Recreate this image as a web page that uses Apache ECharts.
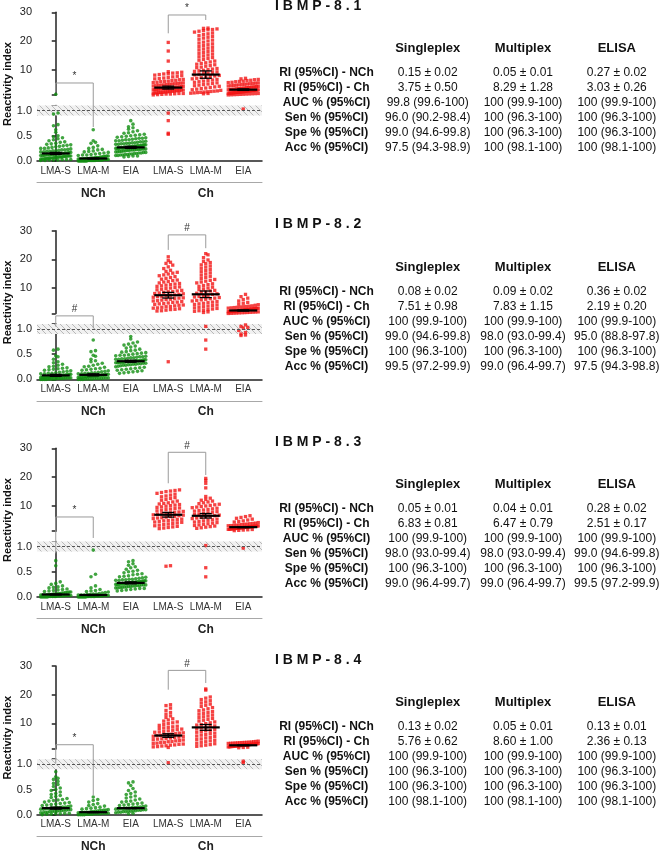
<!DOCTYPE html>
<html><head><meta charset="utf-8">
<script src="https://cdn.jsdelivr.net/npm/echarts@6/dist/echarts.min.js"></script>
<style>html,body{margin:0;padding:0;background:#fff}#c{width:660px;height:853px}</style>
</head><body><div id="c"></div><script>
// ---------------- DATA ----------------
const categories = ['LMA-S','LMA-M','EIA','LMA-S','LMA-M','EIA'];
const groupNames = ['NCh','Ch'];
const panelTitles = ['I B M P - 8 . 1','I B M P - 8 . 2','I B M P - 8 . 3','I B M P - 8 . 4'];
const colHeaders = ['Singleplex','Multiplex','ELISA'];
const rowLabels = ['RI (95%CI) - NCh','RI (95%CI) - Ch','AUC % (95%CI)','Sen % (95%CI)','Spe % (95%CI)','Acc % (95%CI)'];
const upperTicks = [10,20,30];
const lowerTicks = [0,0.5,1.0];

// group means and 95% CI half-widths: NCh LMA-S, LMA-M, EIA, Ch LMA-S, LMA-M, EIA
const means81 = [0.15,0.05,0.27,3.75,8.29,3.03], ci81 = [0.02,0.01,0.02,0.50,1.28,0.26];
const means82 = [0.08,0.09,0.36,7.51,7.83,2.19], ci82 = [0.02,0.02,0.02,0.98,1.15,0.20];
const means83 = [0.05,0.04,0.28,6.83,6.47,2.51], ci83 = [0.01,0.01,0.02,0.81,0.79,0.17];
const means84 = [0.13,0.05,0.13,5.76,8.60,2.36], ci84 = [0.02,0.01,0.01,0.62,1.00,0.13];

const auc81 = ['99.8 (99.6-100)','100 (99.9-100)','100 (99.9-100)'];
const sen81 = ['96.0 (90.2-98.4)','100 (96.3-100)','100 (96.3-100)'];
const spe81 = ['99.0 (94.6-99.8)','100 (96.3-100)','100 (96.3-100)'];
const acc81 = ['97.5 (94.3-98.9)','100 (98.1-100)','100 (98.1-100)'];
const auc82 = ['100 (99.9-100)','100 (99.9-100)','100 (99.9-100)'];
const sen82 = ['99.0 (94.6-99.8)','98.0 (93.0-99.4)','95.0 (88.8-97.8)'];
const spe82 = ['100 (96.3-100)','100 (96.3-100)','100 (96.3-100)'];
const acc82 = ['99.5 (97.2-99.9)','99.0 (96.4-99.7)','97.5 (94.3-98.8)'];
const auc83 = ['100 (99.9-100)','100 (99.9-100)','100 (99.9-100)'];
const sen83 = ['98.0 (93.0-99.4)','98.0 (93.0-99.4)','99.0 (94.6-99.8)'];
const spe83 = ['100 (96.3-100)','100 (96.3-100)','100 (96.3-100)'];
const acc83 = ['99.0 (96.4-99.7)','99.0 (96.4-99.7)','99.5 (97.2-99.9)'];
const auc84 = ['100 (99.9-100)','100 (99.9-100)','100 (99.9-100)'];
const sen84 = ['100 (96.3-100)','100 (96.3-100)','100 (96.3-100)'];
const spe84 = ['100 (96.3-100)','100 (96.3-100)','100 (96.3-100)'];
const acc84 = ['100 (98.1-100)','100 (98.1-100)','100 (98.1-100)'];

// individual reactivity indices
const nch81_lmas = [1.43,0.95,0.93,0.72,0.70,0.62,0.57,0.50,0.48,0.46,0.44,0.42,0.40,0.38,0.37,0.35,0.34,0.33,0.32,0.31,0.30,0.29,0.28,0.27,0.26,0.25,0.25,0.24,0.23,0.22,0.22,0.21,0.20,0.20,0.19,0.19,0.18,0.18,0.17,0.17,0.16,0.16,0.15,0.15,0.15,0.14,0.14,0.14,0.13,0.13,0.13,0.12,0.12,0.12,0.11,0.11,0.11,0.10,0.10,0.10,0.09,0.09,0.09,0.08,0.08,0.08,0.07,0.07,0.07,0.06,0.06,0.06,0.05,0.05,0.05,0.04,0.04,0.04,0.03,0.03,0.03,0.02,0.02,0.02,0.01,0.01];
const nch81_lmam = [0.62,0.40,0.37,0.35,0.30,0.27,0.25,0.23,0.22,0.20,0.19,0.18,0.17,0.16,0.15,0.14,0.13,0.12,0.12,0.11,0.10,0.10,0.09,0.09,0.08,0.08,0.07,0.07,0.07,0.06,0.06,0.06,0.05,0.05,0.05,0.05,0.04,0.04,0.04,0.04,0.03,0.03,0.03,0.03,0.03,0.02,0.02,0.02,0.02,0.02,0.02,0.01,0.01,0.01,0.01,0.01,0.01,0.01,0.00,0.00,0.00,0.00,0.00,0.00,0.00,0.00];
const nch81_eia = [0.80,0.73,0.68,0.66,0.63,0.60,0.58,0.56,0.55,0.53,0.52,0.51,0.50,0.49,0.48,0.47,0.46,0.45,0.45,0.44,0.43,0.42,0.42,0.41,0.40,0.40,0.39,0.38,0.38,0.37,0.36,0.36,0.35,0.35,0.34,0.34,0.33,0.33,0.32,0.32,0.31,0.31,0.30,0.30,0.30,0.29,0.29,0.29,0.28,0.28,0.28,0.27,0.27,0.27,0.26,0.26,0.26,0.25,0.25,0.25,0.24,0.24,0.24,0.23,0.23,0.23,0.22,0.22,0.22,0.21,0.21,0.20,0.20,0.19,0.19,0.18,0.18,0.17,0.17,0.16,0.16,0.15,0.15,0.14,0.14,0.13,0.13,0.12,0.12,0.11,0.11,0.10,0.10,0.09,0.08];
const ch81_lmas = [19.5,16.5,13.0,9.3,9.1,8.9,8.8,8.6,8.5,8.3,8.1,7.9,7.7,7.5,7.3,7.1,6.9,6.8,6.6,6.5,6.3,6.2,6.0,5.9,5.8,5.6,5.5,5.4,5.3,5.2,5.1,5.0,4.9,4.8,4.7,4.6,4.5,4.4,4.3,4.2,4.1,4.0,3.9,3.9,3.8,3.7,3.7,3.6,3.5,3.5,3.4,3.3,3.3,3.2,3.1,3.1,3.0,2.9,2.9,2.8,2.7,2.7,2.6,2.5,2.5,2.4,2.3,2.3,2.2,2.1,2.1,2.0,1.9,1.9,1.8,1.7,1.7,1.6,1.5,1.5,1.4,1.3,1.2,0.95,0.80,0.55,0.53];
const ch81_lmam = [24.5,24.4,24.2,24.0,23.9,23.6,23.4,23.1,22.8,22.5,22.2,21.9,21.6,21.3,21.0,20.6,20.3,20.0,19.6,19.3,19.0,18.7,18.4,18.1,17.8,17.5,17.2,16.9,16.6,16.3,16.0,15.7,15.4,15.1,14.8,14.5,14.2,13.9,13.6,13.3,13.0,12.7,12.4,12.2,11.9,11.7,11.4,11.2,10.9,10.7,10.4,10.2,10.0,9.8,9.6,9.4,9.2,9.0,8.8,8.6,8.4,8.2,8.0,7.8,7.6,7.4,7.2,7.0,6.8,6.6,6.4,6.2,6.0,5.8,5.6,5.4,5.2,5.0,4.8,4.6,4.4,4.2,4.0,3.8,3.6,3.4,3.2,3.0,2.8,2.6,2.5,2.4,2.3,2.2,2.1,2.0,1.9,1.8,1.7,1.6];
const ch81_eia = [7.0,6.8,6.6,6.5,6.3,6.2,6.0,5.9,5.8,5.6,5.5,5.4,5.3,5.2,5.1,5.0,4.9,4.8,4.7,4.6,4.5,4.4,4.3,4.2,4.1,4.0,3.95,3.9,3.8,3.75,3.7,3.6,3.55,3.5,3.4,3.35,3.3,3.2,3.15,3.1,3.05,3.0,2.95,2.9,2.85,2.8,2.75,2.7,2.65,2.6,2.55,2.5,2.45,2.4,2.35,2.3,2.25,2.2,2.15,2.1,2.05,2.0,1.95,1.9,1.85,1.8,1.75,1.7,1.65,1.6,1.55,1.5,1.45,1.4,1.35,1.3,1.25,1.2,1.03];

const nch82_lmas = [0.60,0.58,0.47,0.45,0.40,0.35,0.33,0.30,0.28,0.26,0.25,0.23,0.22,0.21,0.20,0.19,0.18,0.17,0.16,0.15,0.14,0.13,0.12,0.12,0.11,0.11,0.10,0.10,0.09,0.09,0.08,0.08,0.08,0.07,0.07,0.07,0.06,0.06,0.06,0.05,0.05,0.05,0.05,0.04,0.04,0.04,0.04,0.03,0.03,0.03,0.03,0.02,0.02,0.02,0.02,0.02,0.01,0.01,0.01,0.01,0.01,0.00,0.00,0.00,0.00];
const nch82_lmam = [0.78,0.57,0.55,0.48,0.46,0.40,0.37,0.35,0.32,0.30,0.28,0.26,0.25,0.24,0.22,0.21,0.20,0.19,0.18,0.17,0.16,0.15,0.14,0.13,0.13,0.12,0.12,0.11,0.11,0.10,0.10,0.09,0.09,0.08,0.08,0.08,0.07,0.07,0.07,0.06,0.06,0.06,0.05,0.05,0.05,0.04,0.04,0.04,0.03,0.03,0.03,0.02,0.02,0.02,0.02,0.01,0.01,0.01,0.01,0.00,0.00,0.00];
const nch82_eia = [0.85,0.80,0.74,0.72,0.70,0.68,0.66,0.64,0.62,0.60,0.58,0.57,0.55,0.54,0.53,0.52,0.51,0.50,0.49,0.48,0.48,0.47,0.46,0.45,0.45,0.44,0.43,0.43,0.42,0.41,0.41,0.40,0.40,0.39,0.39,0.38,0.38,0.37,0.37,0.37,0.36,0.36,0.36,0.35,0.35,0.35,0.34,0.34,0.34,0.33,0.33,0.33,0.32,0.32,0.31,0.31,0.30,0.30,0.29,0.29,0.28,0.28,0.27,0.26,0.25,0.24,0.23,0.22,0.21,0.20,0.19,0.18,0.17,0.16,0.15,0.14,0.13,0.12];
const ch82_lmas = [20.9,19.6,19.0,18.6,18.0,17.4,16.8,16.2,15.8,15.5,15.2,14.9,14.6,14.3,14.0,13.7,13.4,13.1,12.8,12.6,12.3,12.1,11.8,11.6,11.4,11.2,11.0,10.8,10.6,10.4,10.2,10.0,9.8,9.6,9.4,9.2,9.0,8.8,8.7,8.5,8.3,8.1,8.0,7.8,7.6,7.5,7.3,7.1,7.0,6.8,6.6,6.5,6.3,6.1,6.0,5.8,5.6,5.5,5.3,5.1,5.0,4.8,4.6,4.5,4.3,4.1,4.0,3.8,3.6,3.5,3.3,3.1,3.0,2.8,2.6,2.5,2.3,2.1,2.0,0.35];
const ch82_lmam = [22.0,21.6,20.6,19.8,19.3,18.9,18.5,18.1,17.7,17.3,16.9,16.5,16.1,15.7,15.3,14.9,14.5,14.1,13.7,13.3,13.0,12.7,12.4,12.1,11.8,11.5,11.2,10.9,10.6,10.3,10.0,9.7,9.5,9.2,9.0,8.7,8.5,8.2,8.0,7.8,7.5,7.3,7.1,6.9,6.7,6.5,6.3,6.1,5.9,5.7,5.5,5.3,5.1,4.9,4.7,4.5,4.3,4.1,3.9,3.7,3.5,3.3,3.1,2.9,2.7,2.5,2.3,2.1,1.9,1.7,1.5,1.05,0.78,0.60];
const ch82_eia = [7.8,7.0,6.5,6.0,5.5,5.0,4.7,4.4,4.2,4.0,3.8,3.7,3.6,3.5,3.4,3.3,3.2,3.1,3.0,2.95,2.9,2.85,2.8,2.75,2.7,2.65,2.6,2.55,2.5,2.45,2.4,2.35,2.3,2.25,2.2,2.15,2.1,2.05,2.0,1.95,1.9,1.85,1.8,1.75,1.7,1.65,1.6,1.55,1.5,1.45,1.4,1.35,1.3,1.25,1.2,1.15,1.08,1.05,1.03,1.02,0.97,0.93,0.90,0.88,0.87];

const nch83_lmas = [0.72,0.62,0.30,0.27,0.25,0.22,0.20,0.19,0.18,0.16,0.15,0.14,0.13,0.12,0.11,0.10,0.10,0.09,0.09,0.08,0.08,0.07,0.07,0.06,0.06,0.06,0.05,0.05,0.05,0.04,0.04,0.04,0.04,0.03,0.03,0.03,0.03,0.02,0.02,0.02,0.02,0.02,0.01,0.01,0.01,0.01,0.01,0.00,0.00,0.00,0.00,0.00];
const nch83_lmam = [0.93,0.45,0.40,0.22,0.18,0.15,0.13,0.12,0.11,0.10,0.09,0.08,0.07,0.06,0.06,0.05,0.05,0.04,0.04,0.04,0.03,0.03,0.03,0.03,0.02,0.02,0.02,0.02,0.02,0.01,0.01,0.01,0.01,0.01,0.01,0.00,0.00,0.00,0.00,0.00,0.00];
const nch83_eia = [0.72,0.70,0.66,0.63,0.60,0.58,0.55,0.53,0.51,0.50,0.48,0.46,0.45,0.44,0.42,0.41,0.40,0.39,0.38,0.37,0.36,0.35,0.35,0.34,0.34,0.33,0.33,0.32,0.32,0.31,0.31,0.30,0.30,0.30,0.29,0.29,0.29,0.28,0.28,0.28,0.27,0.27,0.27,0.26,0.26,0.26,0.25,0.25,0.25,0.24,0.24,0.24,0.23,0.23,0.22,0.22,0.21,0.21,0.20,0.20,0.19,0.19,0.18,0.18,0.17,0.17,0.16,0.15,0.14,0.13,0.12];
const ch83_lmas = [15.5,15.3,15.1,14.9,14.6,14.3,14.0,13.7,13.4,13.1,12.8,12.5,12.2,11.9,11.6,11.3,11.0,10.8,10.6,10.4,10.2,10.0,9.8,9.6,9.4,9.2,9.0,8.8,8.6,8.4,8.2,8.0,7.8,7.7,7.5,7.3,7.2,7.0,6.8,6.7,6.5,6.3,6.2,6.0,5.8,5.7,5.5,5.3,5.2,5.0,4.8,4.7,4.5,4.3,4.2,4.0,3.8,3.6,3.4,3.2,3.0,2.8,2.6,2.4,2.2,2.0,0.62,0.61];
const ch83_lmam = [19.5,18.8,17.8,16.2,13.2,12.6,12.2,11.9,11.6,11.3,11.0,10.7,10.5,10.3,10.1,9.9,9.7,9.5,9.3,9.1,8.9,8.7,8.5,8.3,8.1,7.9,7.7,7.5,7.3,7.1,6.9,6.7,6.5,6.3,6.1,5.9,5.7,5.5,5.3,5.1,4.9,4.7,4.5,4.3,4.1,3.9,3.7,3.5,3.3,3.1,2.9,2.7,2.5,2.3,2.1,1.02,0.58,0.40];
const ch83_eia = [6.5,6.2,5.9,5.6,5.3,5.0,4.7,4.5,4.3,4.1,3.9,3.8,3.7,3.6,3.5,3.4,3.3,3.2,3.1,3.05,3.0,2.95,2.9,2.85,2.8,2.75,2.7,2.65,2.6,2.55,2.5,2.45,2.4,2.35,2.3,2.25,2.2,2.15,2.1,2.05,2.0,1.95,1.9,1.85,1.8,1.75,1.7,1.6,1.5,1.4,1.3,0.97];

const nch84_lmas = [0.85,0.75,0.72,0.70,0.66,0.62,0.60,0.56,0.53,0.50,0.48,0.45,0.42,0.40,0.38,0.36,0.34,0.32,0.30,0.29,0.28,0.27,0.25,0.24,0.23,0.22,0.21,0.20,0.19,0.18,0.17,0.16,0.15,0.15,0.14,0.14,0.13,0.13,0.12,0.12,0.11,0.11,0.10,0.10,0.09,0.09,0.08,0.08,0.07,0.07,0.06,0.06,0.05,0.05,0.04,0.04,0.03,0.03,0.02,0.02,0.01,0.01,0.00];
const nch84_lmam = [0.35,0.30,0.28,0.25,0.22,0.20,0.18,0.17,0.15,0.14,0.13,0.12,0.11,0.10,0.09,0.09,0.08,0.08,0.07,0.07,0.06,0.06,0.05,0.05,0.05,0.04,0.04,0.04,0.03,0.03,0.03,0.03,0.02,0.02,0.02,0.02,0.01,0.01,0.01,0.01,0.00,0.00,0.00,0.00];
const nch84_eia = [0.65,0.63,0.58,0.52,0.48,0.45,0.42,0.40,0.37,0.35,0.33,0.31,0.29,0.27,0.26,0.25,0.23,0.22,0.21,0.20,0.19,0.18,0.17,0.16,0.15,0.15,0.14,0.14,0.13,0.13,0.12,0.12,0.11,0.11,0.10,0.10,0.09,0.09,0.08,0.08,0.07,0.07,0.06,0.06,0.05,0.05,0.04,0.03,0.02];
const ch84_lmas = [16.5,16.2,15.3,14.5,13.8,13.2,12.6,12.1,11.6,11.2,10.8,10.5,10.2,9.9,9.6,9.3,9.0,8.8,8.6,8.4,8.2,8.0,7.8,7.6,7.4,7.2,7.0,6.9,6.7,6.6,6.4,6.3,6.1,6.0,5.8,5.7,5.5,5.4,5.2,5.1,4.9,4.8,4.6,4.5,4.3,4.2,4.0,3.9,3.7,3.6,3.4,3.3,3.1,3.0,2.8,2.7,2.5,2.4,2.2,2.1,1.9,1.8,1.6,1.03];
const ch84_lmam = [22.0,21.6,19.2,18.8,18.3,17.9,17.5,17.1,16.7,16.3,15.9,15.5,15.1,14.7,14.4,14.1,13.8,13.5,13.2,12.9,12.6,12.3,12.0,11.7,11.4,11.1,10.8,10.5,10.2,9.9,9.6,9.4,9.1,8.9,8.6,8.4,8.1,7.9,7.6,7.4,7.1,6.9,6.6,6.4,6.1,5.9,5.6,5.4,5.1,4.9,4.6,4.4,4.1,3.9,3.6,3.4,3.1,2.9,2.6,2.4,2.2,2.0];
const ch84_eia = [3.8,3.7,3.6,3.5,3.45,3.4,3.35,3.3,3.25,3.2,3.15,3.1,3.05,3.0,2.95,2.9,2.85,2.8,2.75,2.7,2.65,2.6,2.55,2.5,2.45,2.4,2.35,2.3,2.25,2.2,2.15,2.1,2.05,2.0,1.95,1.9,1.85,1.8,1.7,1.6,1.5,1.06,1.03];

// significance brackets: [label, top, left leg end, right leg end] (NCh in lower-axis units, Ch in upper-axis units)
const sigNCh = [['*',1.546,1.362,0.674],['#',1.259,1.047,1.011],['*',1.586,0.866,1.17],['*',1.387,1.02,0.38]];
const sigCh  = [['*',29.06,22.68,27.32],['#',28.54,23.31,23.90],['#',28.61,17.80,20.69],['#',28.47,21.74,24.07]];

// ---------------- LAYOUT ----------------
const panels = [
  {groups:[nch81_lmas,nch81_lmam,nch81_eia,ch81_lmas,ch81_lmam,ch81_eia], means:means81, ci:ci81, auc:auc81, sen:sen81, spe:spe81, acc:acc81},
  {groups:[nch82_lmas,nch82_lmam,nch82_eia,ch82_lmas,ch82_lmam,ch82_eia], means:means82, ci:ci82, auc:auc82, sen:sen82, spe:spe82, acc:acc82},
  {groups:[nch83_lmas,nch83_lmam,nch83_eia,ch83_lmas,ch83_lmam,ch83_eia], means:means83, ci:ci83, auc:auc83, sen:sen83, spe:spe83, acc:acc83},
  {groups:[nch84_lmas,nch84_lmam,nch84_eia,ch84_lmas,ch84_lmam,ch84_eia], means:means84, ci:ci84, auc:auc84, sen:sen84, spe:spe84, acc:acc84}
];
const OY = [0, 218.4, 436, 653.7];
const GL = 37, GW = 225, BAND = GW/6;
const UP_TOP = 12.3, UP_H = 82.9, UP_MIN = 1.1, UP_MAX = 30;
const LO_TOP = 105.5, LO_H = 55.5, LO_MIN = 0, LO_MAX = 1.1;
const BREAK = 1.1;
const FONT = "'Liberation Sans', Arial, sans-serif";
const GREEN = '#118f11', RED = '#f21414';

function swarm(vals, ci, pxPerUnit, base) {
  const rowH = 3.6, dx = 4.5, maxW = 30;
  const rows = new Map();
  vals.slice().sort((a,b)=>a-b).forEach(v => {
    const r = Math.round((v-base)*pxPerUnit/rowH);
    if (!rows.has(r)) rows.set(r, []);
    rows.get(r).push(v);
  });
  const out = [];
  rows.forEach(list => {
    const n = list.length;
    const step = n > 1 ? Math.min(dx, maxW/(n-1)) : 0;
    list.forEach((v,j) => out.push([ci + (j-(n-1)/2)*step/BAND, v]));
  });
  return out;
}

function hatchPattern() {
  const s = 6, c = document.createElement('canvas'); c.width = c.height = s;
  const g = c.getContext('2d');
  g.fillStyle = '#f1f1f1'; g.fillRect(0,0,s,s);
  g.strokeStyle = '#b9b9b9'; g.lineWidth = 1;
  g.beginPath(); g.moveTo(-1,-1); g.lineTo(s+1,s+1); g.moveTo(-1,s-1); g.lineTo(1,s+1); g.moveTo(s-1,-1); g.lineTo(s+1,1); g.stroke();
  return c;
}
const hatch = hatchPattern();

const grid = [], xAxis = [], yAxis = [], series = [], graphic = [];

function meanRender(params, api) {
  const x = api.value(0), m = api.value(1), c = api.value(2);
  const pm = api.coord([x,m]), lo = api.coord([x,m-c]), hi = api.coord([x,m+c]);
  const hw = 14, cw = 6;
  return {type:'group', children:[
    {type:'line', shape:{x1:pm[0]-hw,y1:pm[1],x2:pm[0]+hw,y2:pm[1]}, style:{stroke:'#000',lineWidth:2.2}},
    {type:'line', shape:{x1:lo[0],y1:lo[1],x2:hi[0],y2:hi[1]}, style:{stroke:'#000',lineWidth:1.3}},
    {type:'line', shape:{x1:lo[0]-cw,y1:lo[1],x2:lo[0]+cw,y2:lo[1]}, style:{stroke:'#000',lineWidth:1.3}},
    {type:'line', shape:{x1:hi[0]-cw,y1:hi[1],x2:hi[0]+cw,y2:hi[1]}, style:{stroke:'#000',lineWidth:1.3}}
  ]};
}
function bracketSeries(xi, yi, sig, xa, xb) {
  return {type:'custom', xAxisIndex:xi, yAxisIndex:yi, clip:false, silent:true, z:3,
    data:[[xa, sig[1], xb, sig[2], sig[3]]],
    renderItem:(params, api) => {
      const top = api.value(1);
      const p1 = api.coord([api.value(0), top]), p2 = api.coord([api.value(2), top]);
      const pl = api.coord([api.value(0), api.value(3)]), pr = api.coord([api.value(2), api.value(4)]);
      return {type:'group', children:[
        {type:'polyline', shape:{points:[pl,p1,p2,pr]}, style:{stroke:'#9a9a9a', lineWidth:1, fill:null}},
        {type:'text', x:(p1[0]+p2[0])/2, y:p1[1]-1.5, style:{text:sig[0], align:'center', verticalAlign:'bottom', font:'10px '+FONT, fill:'#333'}}
      ]};
    }};
}

panels.forEach((P, k) => {
  const oy = OY[k];
  const gU = 2*k, gL = 2*k+1;
  grid.push({left:GL, width:GW, top:UP_TOP+oy, height:UP_H});
  grid.push({left:GL, width:GW, top:LO_TOP+oy, height:LO_H});
  const xU = 4*k, xL = 4*k+1;
  xAxis.push({gridIndex:gU, type:'value', min:-0.5, max:5.5, show:false});
  xAxis.push({gridIndex:gL, type:'value', min:-0.5, max:5.5, show:false});
  xAxis.push({gridIndex:gL, type:'category', data:categories, position:'bottom', boundaryGap:true,
    axisLine:{lineStyle:{color:'#222', width:1.5}},
    axisTick:{alignWithLabel:true, length:3, lineStyle:{color:'#222', width:1.2}},
    axisLabel:{interval:0, fontSize:10, color:'#333', margin:5, fontFamily:FONT}});
  xAxis.push({gridIndex:gL, type:'category', data:groupNames, position:'bottom', offset:21.7, boundaryGap:true,
    axisLine:{lineStyle:{color:'#a8a8a8', width:1}},
    axisTick:{inside:true, length:3, lineStyle:{color:'#a8a8a8'}},
    axisLabel:{fontSize:12, fontWeight:'bold', color:'#222', margin:4.5, fontFamily:FONT}});
  yAxis.push({gridIndex:gU, type:'value', min:UP_MIN, max:UP_MAX, splitLine:{show:false},
    axisLine:{show:true, lineStyle:{color:'#222', width:1.5}},
    axisTick:{show:true, length:4, customValues:[UP_MIN].concat(upperTicks), lineStyle:{color:'#222', width:1.5}},
    axisLabel:{customValues:upperTicks, fontSize:11, color:'#222', margin:5, fontFamily:FONT}});
  yAxis.push({gridIndex:gL, type:'value', min:LO_MIN, max:LO_MAX, splitLine:{show:false},
    axisLine:{show:true, lineStyle:{color:'#222', width:1.5}},
    axisTick:{show:true, length:4, customValues:lowerTicks.concat([LO_MAX]), lineStyle:{color:'#222', width:1.5}},
    axisLabel:{customValues:lowerTicks, formatter:v=>v.toFixed(1), fontSize:11, color:'#222', margin:5, fontFamily:FONT}});

  series.push({type:'line', xAxisIndex:xL, yAxisIndex:gL, data:[], z:1, silent:true,
    markArea:{silent:true, itemStyle:{color:{image:hatch, repeat:'repeat'}}, data:[[{yAxis:0.9},{yAxis:1.1}]]},
    markLine:{silent:true, symbol:['none','none'], label:{show:false}, lineStyle:{color:'#555', width:1, type:[3,2]}, data:[{yAxis:1.0}]}});

  const upG = [], upR = [], loG = [], loR = [];
  P.groups.forEach((vals, ci) => {
    const up = vals.filter(v => v > BREAK), lo = vals.filter(v => v <= BREAK);
    const su = swarm(up, ci, UP_H/(UP_MAX-UP_MIN), UP_MIN);
    const sl = swarm(lo, ci, LO_H/(LO_MAX-LO_MIN), LO_MIN);
    if (ci < 3) { upG.push(...su); loG.push(...sl); } else { upR.push(...su); loR.push(...sl); }
  });
  const sg = {type:'scatter', symbol:'circle', symbolSize:3.6, itemStyle:{color:GREEN}, silent:true, z:2};
  const sr = {type:'scatter', symbol:'rect', symbolSize:3.3, itemStyle:{color:RED}, silent:true, z:2};
  series.push(Object.assign({}, sg, {xAxisIndex:xU, yAxisIndex:gU, data:upG}));
  series.push(Object.assign({}, sr, {xAxisIndex:xU, yAxisIndex:gU, data:upR}));
  series.push(Object.assign({}, sg, {xAxisIndex:xL, yAxisIndex:gL, data:loG}));
  series.push(Object.assign({}, sr, {xAxisIndex:xL, yAxisIndex:gL, data:loR}));

  const mU = [], mL = [];
  P.means.forEach((m, i) => { (m > BREAK ? mU : mL).push([i, m, P.ci[i]]); });
  series.push({type:'custom', xAxisIndex:xU, yAxisIndex:gU, renderItem:meanRender, data:mU, z:4, silent:true});
  series.push({type:'custom', xAxisIndex:xL, yAxisIndex:gL, renderItem:meanRender, data:mL, z:4, silent:true});

  series.push(bracketSeries(xL, gL, sigNCh[k], 0, 1));
  series.push(bracketSeries(xU, gU, sigCh[k], 3, 4));

  graphic.push({type:'text', x:8, y:84+oy, rotation:Math.PI/2,
    style:{text:'Reactivity index', align:'center', verticalAlign:'middle', font:'bold 11px '+FONT, fill:'#111'}});

  graphic.push({type:'text', x:275, y:6+oy, style:{text:panelTitles[k], align:'left', verticalAlign:'middle', font:'bold 14px '+FONT, fill:'#111'}});
  const colX = [326.5, 427.7, 523, 616.8];
  colHeaders.forEach((h,i) => graphic.push({type:'text', x:colX[i+1], y:48.7+oy, style:{text:h, align:'center', verticalAlign:'middle', font:'bold 13px '+FONT, fill:'#111'}}));
  const rows = [
    [0,1,2].map(i => P.means[i].toFixed(2)+' \u00b1 '+P.ci[i].toFixed(2)),
    [3,4,5].map(i => P.means[i].toFixed(2)+' \u00b1 '+P.ci[i].toFixed(2)),
    P.auc, P.sen, P.spe, P.acc
  ];
  rowLabels.forEach((lab, r) => {
    const y = 73 + 15*r + oy;
    graphic.push({type:'text', x:colX[0], y:y, style:{text:lab, align:'center', verticalAlign:'middle', font:'bold 12px '+FONT, fill:'#111'}});
    rows[r].forEach((t,i) => graphic.push({type:'text', x:colX[i+1], y:y, style:{text:t, align:'center', verticalAlign:'middle', font:'12px '+FONT, fill:'#111'}}));
  });
});

const chart = echarts.init(document.getElementById('c'), null, {renderer:'canvas'});
chart.setOption({animation:false, backgroundColor:'#fff', grid, xAxis, yAxis, series, graphic});
</script></body></html>
